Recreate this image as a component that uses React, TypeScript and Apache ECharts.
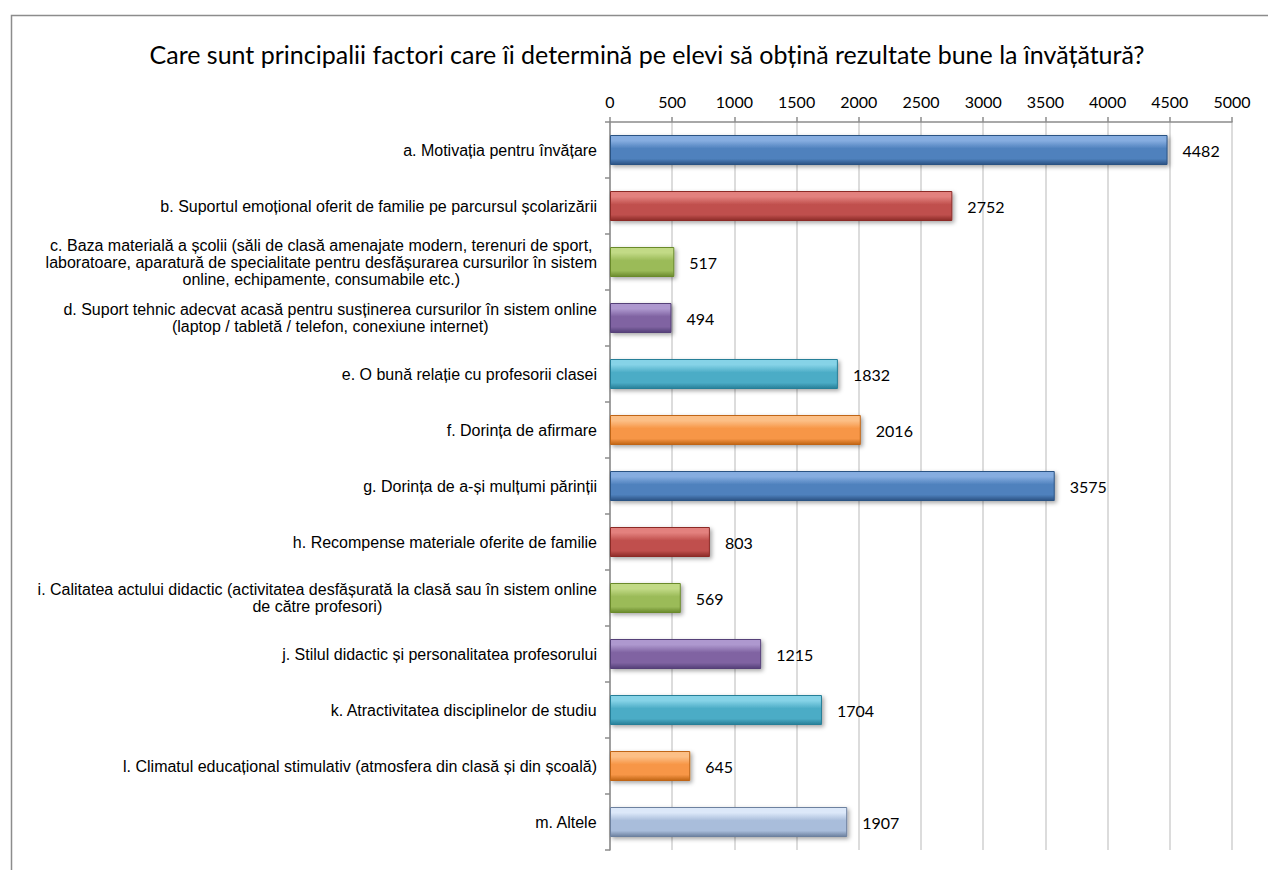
import React, { useEffect, useRef } from "react";
import * as echarts from "echarts";

const TITLE = "Care sunt principalii factori care îi determină pe elevi să obțină rezultate bune la învățătură?";

const categories: string[][] = [
  ["a. Motivația pentru învățare"],
  ["b. Suportul emoțional oferit de familie pe parcursul școlarizării"],
  [
    "c. Baza materială a școlii (săli de clasă amenajate modern, terenuri de sport,",
    "laboratoare, aparatură de specialitate pentru desfășurarea cursurilor în sistem",
    "online, echipamente, consumabile etc.)",
  ],
  [
    "d. Suport tehnic adecvat acasă pentru susținerea cursurilor în sistem online",
    "(laptop / tabletă / telefon, conexiune internet)",
  ],
  ["e. O bună relație cu profesorii clasei"],
  ["f. Dorința de afirmare"],
  ["g. Dorința de a-și mulțumi părinții"],
  ["h. Recompense materiale oferite de familie"],
  [
    "i. Calitatea actului didactic (activitatea desfășurată la clasă sau în sistem online",
    "de către profesori)",
  ],
  ["j. Stilul didactic și personalitatea profesorului"],
  ["k. Atractivitatea disciplinelor de studiu"],
  ["l. Climatul educațional stimulativ (atmosfera din clasă și din școală)"],
  ["m. Altele"],
];

const values: number[] = [4482, 2752, 517, 494, 1832, 2016, 3575, 803, 569, 1215, 1704, 645, 1907];

// [light, base, dark]
const barColors: string[][] = [
  ["#86ade0", "#4f81bd", "#2c5283"],
  ["#e3817e", "#c0504d", "#8c2b28"],
  ["#c2da86", "#9bbb59", "#6a8a2c"],
  ["#ae98cf", "#8064a2", "#553f78"],
  ["#86d3e7", "#4bacc6", "#277f98"],
  ["#fcbf86", "#f79646", "#c06515"],
  ["#86ade0", "#4f81bd", "#2c5283"],
  ["#e3817e", "#c0504d", "#8c2b28"],
  ["#c2da86", "#9bbb59", "#6a8a2c"],
  ["#ae98cf", "#8064a2", "#553f78"],
  ["#86d3e7", "#4bacc6", "#277f98"],
  ["#fcbf86", "#f79646", "#c06515"],
  ["#dce8f9", "#a9bddb", "#6d819f"],
];

const xTicks = { min: 0, max: 5000, interval: 500 };

export default function App() {
  const ref = useRef<HTMLDivElement>(null);

  useEffect(() => {
    if (!ref.current) return;
    const chart = echarts.init(ref.current, null, { renderer: "svg" });

    const catNames = categories.map((lines) => lines.join("\n"));

    const data = values.map((v, i) => {
      const [light, base, dark] = barColors[i];
      return {
        value: v,
        itemStyle: {
          color: new echarts.graphic.LinearGradient(0, 0, 0, 1, [
            { offset: 0, color: light },
            { offset: 0.18, color: light },
            { offset: 0.45, color: base },
            { offset: 0.8, color: base },
            { offset: 1, color: dark },
          ]),
          borderColor: dark,
          borderWidth: 1,
          shadowColor: "rgba(0,0,0,0.35)",
          shadowBlur: 4,
          shadowOffsetX: 2,
          shadowOffsetY: 2,
        },
      };
    });

    chart.setOption({
      animation: false,
      backgroundColor: "#ffffff",
      title: {
        text: TITLE,
        left: 642,
        top: 36,
        textAlign: "center",
        textStyle: {
          fontFamily: "Lato, 'Noto Sans', sans-serif",
          fontSize: 25,
          fontWeight: "normal",
          color: "#000000",
        },
      },
      graphic: [
        {
          type: "rect",
          left: 9,
          top: 13,
          shape: { width: 1400, height: 1000 },
          style: { fill: "none", stroke: "#8c8c8c", lineWidth: 1.5 },
          silent: true,
          z: -1,
        },
      ],
      grid: { left: 610, top: 122, right: 36, bottom: 20, containLabel: false },
      xAxis: {
        type: "value",
        position: "top",
        min: xTicks.min,
        max: xTicks.max,
        interval: xTicks.interval,
        axisLine: { show: true, lineStyle: { color: "#8c8c8c", width: 1.5 } },
        axisTick: { show: true, length: 5, lineStyle: { color: "#8c8c8c", width: 1.5 } },
        splitLine: { show: true, lineStyle: { color: "#d0d0d0", width: 1.5 } },
        axisLabel: {
          margin: 13,
          color: "#000000",
          fontFamily: "Lato, 'Noto Sans', sans-serif",
          fontSize: 16,
          formatter: (v: number) => String(v),
        },
      },
      yAxis: {
        type: "category",
        inverse: true,
        data: catNames,
        axisLine: { show: true, lineStyle: { color: "#8c8c8c", width: 1.5 } },
        axisTick: { show: true, length: 5, lineStyle: { color: "#8c8c8c", width: 1.5 } },
        splitLine: { show: false },
        axisLabel: {
          margin: 13,
          align: "right",
          formatter: (val: string) =>
            val
              .split("\n")
              .map((l) => "{c|" + l + "}")
              .join("\n"),
          rich: {
            c: {
              align: "center",
              fontFamily: "'Liberation Sans', Arial, sans-serif",
              fontSize: 16,
              lineHeight: 17,
              color: "#000000",
            },
          },
        },
      },
      series: [
        {
          type: "bar",
          data,
          barWidth: 30,
          label: {
            show: true,
            position: "right",
            distance: 15,
            color: "#000000",
            fontFamily: "Lato, 'Noto Sans', sans-serif",
            fontSize: 16,
          },
        },
      ],
    });

    return () => chart.dispose();
  }, []);

  return (
    <div
      ref={ref}
      style={{ position: "fixed", left: 0, top: 0, width: 1268, height: 870, background: "#fff" }}
    />
  );
}
